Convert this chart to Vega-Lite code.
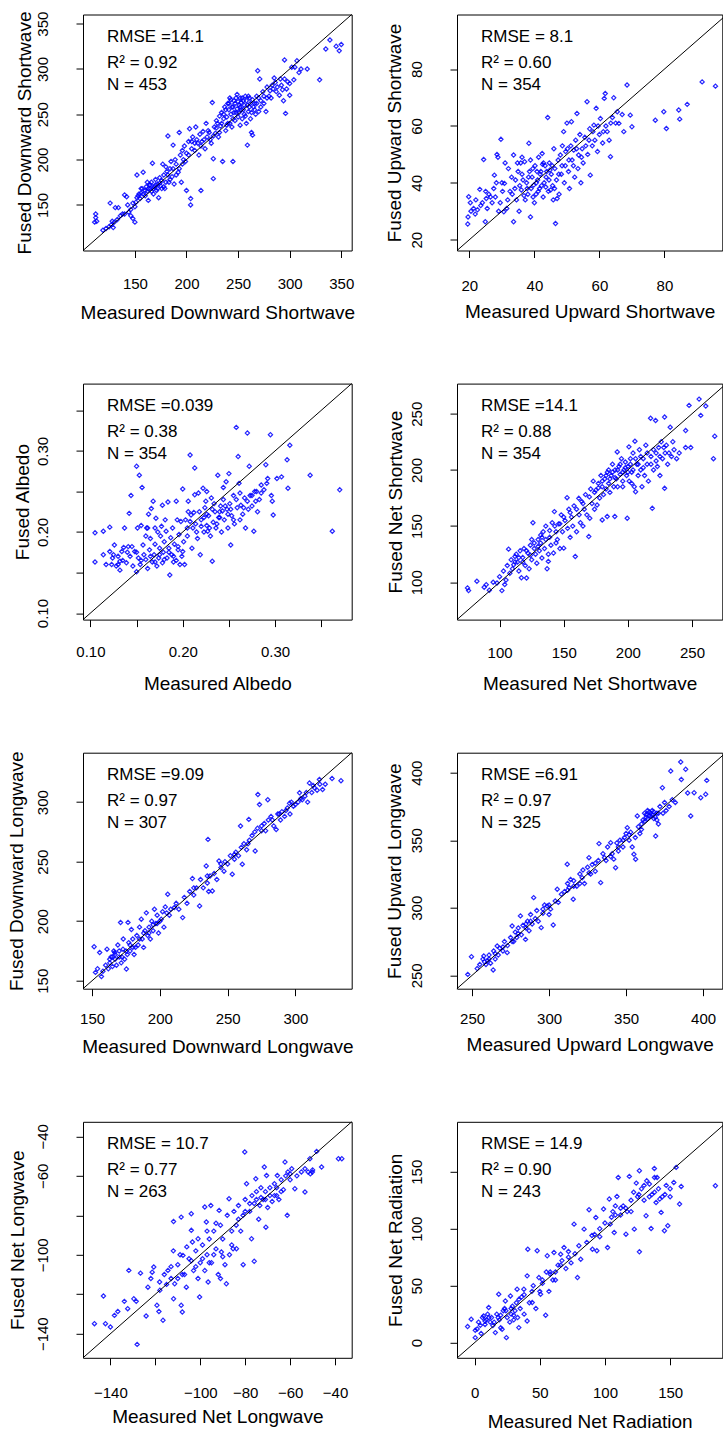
{
"$schema": "https://vega.github.io/schema/vega-lite/v6.json",
"padding": {"left": 6, "top": 10.5, "right": 0, "bottom": 0},
"background": "white",
"config": {
 "font": "Liberation Sans",
 "view": {"stroke": "#000", "strokeWidth": 1},
 "axis": {"domain": false, "grid": false, "ticks": true, "tickColor": "#000", "tickSize": 7, "tickWidth": 1, "labelFontSize": 15, "labelColor": "#000", "labelFont": "Liberation Sans", "titleFont": "Liberation Sans", "titleFontSize": 19, "titleFontWeight": "normal", "titleColor": "#000", "labelFlush": false, "labelOverlap": false, "labelBound": false},
 "axisX": {"labelPadding": 19, "titlePadding": 12},
 "axisY": {"labelAngle": -90, "labelAlign": "center", "labelBaseline": "bottom", "labelPadding": 25.5, "titlePadding": 4},
 "text": {"font": "Liberation Sans", "fontSize": 17, "color": "#000", "align": "left", "baseline": "middle"},
 "point": {"shape": "diamond", "filled": false, "size": 18, "strokeWidth": 1.2, "color": "#0000ff", "opacity": 0.85, "clip": true},
 "rule": {"color": "#000", "strokeWidth": 1, "clip": true}
},
"datasets": {
"p1": [{"x":112,"y":140},{"x":112,"y":136},{"x":113,"y":132},{"x":111,"y":131},{"x":119,"y":122},{"x":122,"y":124},{"x":125,"y":126},{"x":127,"y":128},{"x":129,"y":125},{"x":126,"y":152},{"x":131,"y":147},{"x":134,"y":147},{"x":138,"y":140},{"x":140,"y":161},{"x":142,"y":159},{"x":144,"y":142},{"x":146,"y":138},{"x":148,"y":135},{"x":150,"y":131},{"x":152,"y":183},{"x":151,"y":153},{"x":153,"y":160},{"x":155,"y":157},{"x":156,"y":163},{"x":158,"y":186},{"x":157,"y":168},{"x":160,"y":160},{"x":161,"y":170},{"x":162,"y":165},{"x":163,"y":155},{"x":164,"y":172},{"x":165,"y":168},{"x":166,"y":175},{"x":167,"y":196},{"x":168,"y":162},{"x":169,"y":170},{"x":170,"y":178},{"x":171,"y":166},{"x":172,"y":173},{"x":173,"y":158},{"x":174,"y":180},{"x":175,"y":171},{"x":176,"y":177},{"x":177,"y":195},{"x":178,"y":183},{"x":179,"y":168},{"x":180,"y":192},{"x":181,"y":187},{"x":182,"y":226},{"x":183,"y":175},{"x":184,"y":190},{"x":185,"y":198},{"x":186,"y":181},{"x":187,"y":216},{"x":188,"y":173},{"x":189,"y":200},{"x":190,"y":195},{"x":192,"y":186},{"x":193,"y":230},{"x":194,"y":205},{"x":195,"y":175},{"x":196,"y":210},{"x":197,"y":200},{"x":198,"y":215},{"x":200,"y":166},{"x":200,"y":207},{"x":202,"y":220},{"x":203,"y":234},{"x":204,"y":157},{"x":204,"y":150},{"x":205,"y":212},{"x":206,"y":225},{"x":208,"y":218},{"x":209,"y":236},{"x":210,"y":222},{"x":212,"y":205},{"x":213,"y":228},{"x":214,"y":166},{"x":215,"y":220},{"x":216,"y":231},{"x":218,"y":212},{"x":219,"y":240},{"x":220,"y":225},{"x":222,"y":230},{"x":224,"y":218},{"x":225,"y":263},{"x":226,"y":179},{"x":226,"y":201},{"x":227,"y":236},{"x":228,"y":229},{"x":229,"y":243},{"x":230,"y":240},{"x":231,"y":225},{"x":232,"y":248},{"x":233,"y":237},{"x":234,"y":252},{"x":235,"y":198},{"x":236,"y":245},{"x":237,"y":258},{"x":238,"y":232},{"x":239,"y":247},{"x":240,"y":262},{"x":240,"y":240},{"x":241,"y":255},{"x":242,"y":268},{"x":243,"y":250},{"x":244,"y":236},{"x":245,"y":198},{"x":245,"y":258},{"x":246,"y":265},{"x":247,"y":243},{"x":248,"y":252},{"x":249,"y":272},{"x":250,"y":247},{"x":251,"y":260},{"x":252,"y":238},{"x":252,"y":268},{"x":253,"y":255},{"x":254,"y":245},{"x":255,"y":265},{"x":256,"y":250},{"x":257,"y":270},{"x":258,"y":240},{"x":259,"y":216},{"x":259,"y":260},{"x":260,"y":253},{"x":261,"y":268},{"x":262,"y":245},{"x":263,"y":230},{"x":264,"y":227},{"x":265,"y":258},{"x":266,"y":262},{"x":267,"y":250},{"x":268,"y":270},{"x":269,"y":298},{"x":270,"y":253},{"x":271,"y":289},{"x":272,"y":265},{"x":274,"y":275},{"x":275,"y":262},{"x":277,"y":253},{"x":278,"y":280},{"x":280,"y":270},{"x":282,"y":268},{"x":284,"y":278},{"x":285,"y":290},{"x":287,"y":275},{"x":290,"y":271},{"x":292,"y":282},{"x":294,"y":265},{"x":295,"y":289},{"x":296,"y":251},{"x":297,"y":278},{"x":295,"y":310},{"x":300,"y":284},{"x":300,"y":271},{"x":302,"y":302},{"x":304,"y":288},{"x":307,"y":309},{"x":311,"y":300},{"x":317,"y":300},{"x":329,"y":288},{"x":335,"y":322},{"x":339,"y":332},{"x":345,"y":325},{"x":348,"y":320},{"x":350,"y":327},
{"x":236,"y":250},{"x":238,"y":255},{"x":241,"y":262},{"x":243,"y":266},{"x":244,"y":258},{"x":246,"y":252},{"x":247,"y":262},{"x":248,"y":268},{"x":249,"y":256},{"x":250,"y":264},{"x":251,"y":252},{"x":252,"y":258},{"x":253,"y":263},{"x":254,"y":268},{"x":255,"y":255},{"x":256,"y":260},{"x":257,"y":248},{"x":258,"y":265},{"x":260,"y":270},{"x":261,"y":258},{"x":262,"y":262},{"x":263,"y":252},{"x":264,"y":266},{"x":266,"y":255},{"x":268,"y":262},{"x":270,"y":268},{"x":272,"y":258},{"x":245,"y":245},{"x":242,"y":240},{"x":239,"y":238},{"x":234,"y":240},{"x":232,"y":230},{"x":229,"y":235},{"x":226,"y":226},{"x":223,"y":222},{"x":221,"y":232},{"x":217,"y":222},{"x":214,"y":215},{"x":211,"y":218},{"x":208,"y":210},{"x":205,"y":220},{"x":202,"y":205},{"x":199,"y":198},{"x":196,"y":195},{"x":193,"y":190},{"x":190,"y":183},{"x":187,"y":190},{"x":184,"y":178},{"x":182,"y":183},{"x":180,"y":175},{"x":178,"y":170},{"x":176,"y":168},{"x":174,"y":174},{"x":172,"y":168},{"x":170,"y":172},{"x":168,"y":168},{"x":166,"y":165},{"x":165,"y":172},{"x":163,"y":168},{"x":162,"y":175},{"x":160,"y":166},{"x":158,"y":162},{"x":156,"y":168},{"x":154,"y":162},{"x":152,"y":158},{"x":150,"y":148},{"x":148,"y":152},{"x":146,"y":145},{"x":143,"y":150},{"x":140,"y":140},{"x":136,"y":138},{"x":133,"y":134},{"x":130,"y":131},{"x":128,"y":132},{"x":275,"y":270},{"x":278,"y":268},{"x":281,"y":276},{"x":283,"y":282},{"x":286,"y":285},{"x":288,"y":280},{"x":291,"y":289},{"x":293,"y":277},{"x":298,"y":286},{"x":305,"y":302},{"x":309,"y":296}],
"p2": [{"x":19.5,"y":25.5},{"x":19.6,"y":28},{"x":19.8,"y":35.1},{"x":20.3,"y":33},{"x":21.3,"y":31},{"x":22,"y":34},{"x":22.5,"y":30.5},{"x":23.2,"y":37.7},{"x":24,"y":33},{"x":24.4,"y":48.2},{"x":24.9,"y":26.3},{"x":25.2,"y":34.5},{"x":25.5,"y":31},{"x":26,"y":36},{"x":27,"y":33},{"x":27.5,"y":38},{"x":27.7,"y":42.7},{"x":28,"y":35},{"x":28.5,"y":50},{"x":28.8,"y":49},{"x":29,"y":30},{"x":29.7,"y":55.3},{"x":30,"y":40},{"x":30.6,"y":29.8},{"x":30.8,"y":39.8},{"x":31,"y":47},{"x":31.5,"y":31},{"x":32,"y":45},{"x":32.5,"y":37},{"x":33,"y":42},{"x":33.6,"y":26.3},{"x":33.6,"y":49.8},{"x":34,"y":38},{"x":34.5,"y":34},{"x":35,"y":44},{"x":35.3,"y":30},{"x":35.8,"y":47},{"x":36,"y":37.5},{"x":36.5,"y":41},{"x":37,"y":47.4},{"x":37.2,"y":34},{"x":37.6,"y":40},{"x":38,"y":36},{"x":38.3,"y":53.9},{"x":38.5,"y":44},{"x":38.8,"y":28},{"x":39,"y":38},{"x":39.3,"y":42},{"x":39.8,"y":39.2},{"x":40,"y":33},{"x":40.2,"y":46},{"x":40.5,"y":36},{"x":41,"y":41},{"x":41.3,"y":49},{"x":41.6,"y":38},{"x":42,"y":44},{"x":42.4,"y":50.3},{"x":42.7,"y":35},{"x":43,"y":40},{"x":43.3,"y":46},{"x":43.6,"y":42},{"x":44.1,"y":63},{"x":44.3,"y":37},{"x":44.6,"y":47},{"x":45,"y":37.5},{"x":45.2,"y":43},{"x":45.6,"y":39},{"x":46,"y":52},{"x":46.3,"y":45},{"x":46.5,"y":25.7},{"x":46.8,"y":41},{"x":47,"y":34.5},{"x":47.3,"y":48},{"x":47.6,"y":36},{"x":48,"y":49.8},{"x":48.3,"y":43},{"x":48.6,"y":53},{"x":49,"y":58},{"x":49.2,"y":40},{"x":49.5,"y":46},{"x":50,"y":61},{"x":50.2,"y":52},{"x":50.5,"y":44},{"x":50.8,"y":38},{"x":51.4,"y":61.5},{"x":51.6,"y":48},{"x":52.1,"y":51.5},{"x":52.4,"y":42},{"x":52.7,"y":55},{"x":53.1,"y":64.4},{"x":53.4,"y":45},{"x":53.6,"y":49.8},{"x":54,"y":57},{"x":54.3,"y":40},{"x":54.7,"y":52},{"x":55,"y":47},{"x":55.5,"y":56},{"x":56.2,"y":68.5},{"x":56.4,"y":50},{"x":57,"y":59},{"x":57.2,"y":42.7},{"x":57.8,"y":53},{"x":58.3,"y":60.3},{"x":58.6,"y":55},{"x":59,"y":66.2},{"x":59.4,"y":51},{"x":60,"y":57},{"x":60.3,"y":62.6},{"x":61,"y":54},{"x":61.5,"y":69.7},{"x":61.8,"y":71.4},{"x":62,"y":60},{"x":62.4,"y":58},{"x":63,"y":55},{"x":63.4,"y":49.2},{"x":64,"y":63},{"x":64.4,"y":69.9},{"x":65,"y":61},{"x":66,"y":60.9},{"x":67,"y":64},{"x":67.5,"y":58},{"x":68.5,"y":74.4},{"x":69.5,"y":63.8},{"x":70,"y":59.7},{"x":77.2,"y":62},{"x":79.8,"y":65},{"x":80.6,"y":59.1},{"x":84.4,"y":65.6},{"x":84.7,"y":62.4},{"x":87,"y":67.6},{"x":91.6,"y":75.5},{"x":95.7,"y":74},
{"x":34.2,"y":41},{"x":35.5,"y":39},{"x":36.2,"y":43},{"x":37.8,"y":38},{"x":38.2,"y":42},{"x":39.5,"y":45},{"x":40.6,"y":40},{"x":41.2,"y":37},{"x":41.8,"y":43},{"x":42.2,"y":39},{"x":42.8,"y":47},{"x":43.8,"y":44},{"x":44.5,"y":41},{"x":45.5,"y":46},{"x":46.2,"y":38},{"x":47.5,"y":43},{"x":48.5,"y":46},{"x":49.6,"y":51},{"x":50.6,"y":48},{"x":51.2,"y":53},{"x":52,"y":46},{"x":53,"y":52},{"x":54.5,"y":49},{"x":55.8,"y":53},{"x":56.8,"y":55},{"x":58,"y":58},{"x":59.6,"y":60},{"x":61.2,"y":58},{"x":63.5,"y":61},{"x":65.5,"y":65},{"x":36.8,"y":35.5},{"x":39.6,"y":35},{"x":43.5,"y":38.5},{"x":45.8,"y":34},{"x":33.2,"y":36},{"x":31.8,"y":34},{"x":30.2,"y":37},{"x":29.5,"y":33},{"x":28.3,"y":40},{"x":26.5,"y":35},{"x":25,"y":37},{"x":23.5,"y":32},{"x":21.8,"y":29},{"x":20.5,"y":30},{"x":44.8,"y":44.5},{"x":42.5,"y":46.5},{"x":40.8,"y":44},{"x":38.8,"y":48},{"x":36.2,"y":49},{"x":34.8,"y":47}],
"p3": [{"x":0.105,"y":0.199},{"x":0.105,"y":0.163},{"x":0.114,"y":0.201},{"x":0.114,"y":0.172},{"x":0.117,"y":0.160},{"x":0.121,"y":0.206},{"x":0.121,"y":0.176},{"x":0.123,"y":0.160},{"x":0.124,"y":0.168},{"x":0.126,"y":0.184},{"x":0.128,"y":0.158},{"x":0.130,"y":0.170},{"x":0.132,"y":0.153},{"x":0.132,"y":0.164},{"x":0.134,"y":0.176},{"x":0.136,"y":0.181},{"x":0.137,"y":0.205},{"x":0.139,"y":0.162},{"x":0.141,"y":0.182},{"x":0.142,"y":0.223},{"x":0.143,"y":0.170},{"x":0.144,"y":0.245},{"x":0.146,"y":0.158},{"x":0.148,"y":0.176},{"x":0.150,"y":0.281},{"x":0.150,"y":0.151},{"x":0.151,"y":0.205},{"x":0.152,"y":0.168},{"x":0.153,"y":0.270},{"x":0.154,"y":0.160},{"x":0.155,"y":0.208},{"x":0.156,"y":0.255},{"x":0.157,"y":0.184},{"x":0.158,"y":0.172},{"x":0.160,"y":0.166},{"x":0.161,"y":0.205},{"x":0.162,"y":0.155},{"x":0.163,"y":0.222},{"x":0.164,"y":0.178},{"x":0.165,"y":0.192},{"x":0.166,"y":0.229},{"x":0.167,"y":0.163},{"x":0.168,"y":0.238},{"x":0.169,"y":0.172},{"x":0.170,"y":0.185},{"x":0.171,"y":0.217},{"x":0.172,"y":0.158},{"x":0.173,"y":0.200},{"x":0.174,"y":0.168},{"x":0.175,"y":0.180},{"x":0.177,"y":0.207},{"x":0.178,"y":0.233},{"x":0.178,"y":0.162},{"x":0.179,"y":0.175},{"x":0.180,"y":0.188},{"x":0.182,"y":0.201},{"x":0.183,"y":0.168},{"x":0.184,"y":0.237},{"x":0.185,"y":0.180},{"x":0.186,"y":0.147},{"x":0.187,"y":0.193},{"x":0.188,"y":0.172},{"x":0.189,"y":0.205},{"x":0.190,"y":0.163},{"x":0.191,"y":0.185},{"x":0.193,"y":0.238},{"x":0.193,"y":0.165},{"x":0.195,"y":0.178},{"x":0.196,"y":0.197},{"x":0.198,"y":0.213},{"x":0.199,"y":0.170},{"x":0.200,"y":0.253},{"x":0.201,"y":0.188},{"x":0.202,"y":0.160},{"x":0.203,"y":0.215},{"x":0.205,"y":0.195},{"x":0.206,"y":0.225},{"x":0.208,"y":0.295},{"x":0.209,"y":0.221},{"x":0.210,"y":0.180},{"x":0.211,"y":0.205},{"x":0.213,"y":0.279},{"x":0.213,"y":0.246},{"x":0.214,"y":0.210},{"x":0.216,"y":0.192},{"x":0.218,"y":0.225},{"x":0.219,"y":0.172},{"x":0.220,"y":0.215},{"x":0.222,"y":0.254},{"x":0.223,"y":0.200},{"x":0.224,"y":0.230},{"x":0.225,"y":0.238},{"x":0.226,"y":0.208},{"x":0.227,"y":0.201},{"x":0.228,"y":0.220},{"x":0.230,"y":0.195},{"x":0.231,"y":0.242},{"x":0.232,"y":0.164},{"x":0.233,"y":0.212},{"x":0.235,"y":0.225},{"x":0.236,"y":0.205},{"x":0.238,"y":0.270},{"x":0.239,"y":0.218},{"x":0.240,"y":0.225},{"x":0.241,"y":0.232},{"x":0.242,"y":0.200},{"x":0.244,"y":0.240},{"x":0.245,"y":0.215},{"x":0.247,"y":0.262},{"x":0.248,"y":0.228},{"x":0.249,"y":0.205},{"x":0.250,"y":0.272},{"x":0.251,"y":0.235},{"x":0.252,"y":0.184},{"x":0.253,"y":0.220},{"x":0.255,"y":0.245},{"x":0.256,"y":0.210},{"x":0.258,"y":0.329},{"x":0.259,"y":0.230},{"x":0.260,"y":0.293},{"x":0.261,"y":0.260},{"x":0.262,"y":0.215},{"x":0.263,"y":0.233},{"x":0.265,"y":0.222},{"x":0.267,"y":0.242},{"x":0.268,"y":0.205},{"x":0.270,"y":0.322},{"x":0.271,"y":0.228},{"x":0.272,"y":0.281},{"x":0.273,"y":0.245},{"x":0.275,"y":0.232},{"x":0.277,"y":0.201},{"x":0.278,"y":0.250},{"x":0.279,"y":0.238},{"x":0.281,"y":0.225},{"x":0.283,"y":0.240},{"x":0.285,"y":0.248},{"x":0.288,"y":0.252},{"x":0.290,"y":0.283},{"x":0.291,"y":0.260},{"x":0.292,"y":0.266},{"x":0.295,"y":0.320},{"x":0.296,"y":0.245},{"x":0.297,"y":0.238},{"x":0.298,"y":0.221},{"x":0.302,"y":0.266},{"x":0.307,"y":0.268},{"x":0.313,"y":0.289},{"x":0.314,"y":0.254},{"x":0.316,"y":0.307},{"x":0.338,"y":0.270},{"x":0.362,"y":0.201},{"x":0.370,"y":0.252},
{"x":0.165,"y":0.170},{"x":0.170,"y":0.163},{"x":0.175,"y":0.172},{"x":0.180,"y":0.166},{"x":0.185,"y":0.175},{"x":0.190,"y":0.170},{"x":0.195,"y":0.182},{"x":0.197,"y":0.160},{"x":0.200,"y":0.176},{"x":0.205,"y":0.205},{"x":0.208,"y":0.213},{"x":0.212,"y":0.224},{"x":0.215,"y":0.200},{"x":0.220,"y":0.207},{"x":0.223,"y":0.218},{"x":0.226,"y":0.222},{"x":0.229,"y":0.205},{"x":0.232,"y":0.228},{"x":0.234,"y":0.235},{"x":0.237,"y":0.210},{"x":0.240,"y":0.218},{"x":0.243,"y":0.226},{"x":0.246,"y":0.232},{"x":0.249,"y":0.222},{"x":0.252,"y":0.228},{"x":0.255,"y":0.215},{"x":0.258,"y":0.240},{"x":0.262,"y":0.248},{"x":0.266,"y":0.230},{"x":0.270,"y":0.238},{"x":0.275,"y":0.245},{"x":0.280,"y":0.250},{"x":0.285,"y":0.258},{"x":0.125,"y":0.172},{"x":0.130,"y":0.160},{"x":0.135,"y":0.165},{"x":0.140,"y":0.175},{"x":0.145,"y":0.182},{"x":0.150,"y":0.175},{"x":0.155,"y":0.165},{"x":0.160,"y":0.195},{"x":0.162,"y":0.205},{"x":0.170,"y":0.205},{"x":0.176,"y":0.195},{"x":0.181,"y":0.215},{"x":0.194,"y":0.215},{"x":0.206,"y":0.238},{"x":0.217,"y":0.248},{"x":0.226,"y":0.250},{"x":0.244,"y":0.255}],
"p4": [{"x":75,"y":95},{"x":75.8,"y":92.6},{"x":82.3,"y":100.9},{"x":88,"y":95.6},{"x":89.6,"y":97.9},{"x":92,"y":93},{"x":95,"y":100},{"x":98,"y":99.4},{"x":100,"y":105},{"x":101.8,"y":92.6},{"x":103,"y":110},{"x":104,"y":98},{"x":105,"y":102},{"x":106,"y":115},{"x":107,"y":129.5},{"x":108,"y":108},{"x":109,"y":120},{"x":110,"y":112},{"x":111,"y":115.6},{"x":112,"y":123},{"x":113,"y":125},{"x":114,"y":118},{"x":115,"y":110},{"x":116,"y":128},{"x":117,"y":104},{"x":118,"y":122},{"x":119,"y":130},{"x":120,"y":115},{"x":121,"y":103.8},{"x":122,"y":126},{"x":123,"y":112},{"x":124,"y":133},{"x":125,"y":120},{"x":126,"y":153},{"x":127,"y":135},{"x":128,"y":125},{"x":129,"y":117},{"x":130,"y":138},{"x":131,"y":128},{"x":132,"y":142},{"x":133,"y":121.6},{"x":134,"y":145},{"x":135,"y":130},{"x":136,"y":150},{"x":137,"y":112},{"x":138,"y":118.6},{"x":139,"y":140},{"x":140,"y":133},{"x":141,"y":153},{"x":142,"y":126},{"x":142.7,"y":162.9},{"x":144,"y":145},{"x":145,"y":138},{"x":146,"y":152},{"x":147,"y":130},{"x":148,"y":160},{"x":149,"y":145},{"x":150,"y":130.4},{"x":151,"y":155},{"x":152.6,"y":175.3},{"x":153,"y":148},{"x":154,"y":165},{"x":155,"y":140},{"x":156,"y":158},{"x":157,"y":150},{"x":158,"y":168},{"x":159,"y":123},{"x":160,"y":145},{"x":161.7,"y":174.7},{"x":162,"y":160},{"x":163,"y":153},{"x":164,"y":172},{"x":165,"y":150},{"x":166,"y":165},{"x":167,"y":178},{"x":168,"y":160},{"x":169.5,"y":140.7},{"x":170.3,"y":157},{"x":171,"y":183},{"x":172,"y":170},{"x":173,"y":190},{"x":174,"y":165},{"x":175,"y":182},{"x":176,"y":168.8},{"x":177,"y":188},{"x":178,"y":175},{"x":179,"y":195},{"x":180,"y":155.5},{"x":180,"y":185},{"x":181,"y":178},{"x":182,"y":192},{"x":183,"y":183},{"x":183.9,"y":158.5},{"x":184,"y":198},{"x":185,"y":188},{"x":186,"y":180},{"x":187,"y":195},{"x":188,"y":205},{"x":189,"y":185},{"x":189.8,"y":158.5},{"x":190,"y":200},{"x":191,"y":192},{"x":191.7,"y":216},{"x":192,"y":185},{"x":193,"y":203},{"x":194,"y":196},{"x":195,"y":210},{"x":196,"y":190},{"x":197,"y":200},{"x":198,"y":207},{"x":199,"y":195},{"x":199.5,"y":157},{"x":200,"y":203},{"x":200.8,"y":220.5},{"x":201,"y":190},{"x":202,"y":210},{"x":203,"y":198},{"x":204,"y":215},{"x":205,"y":185},{"x":205.5,"y":225.5},{"x":206,"y":180.6},{"x":207,"y":205},{"x":208,"y":195},{"x":209,"y":218},{"x":210,"y":200},{"x":211,"y":185},{"x":212,"y":210},{"x":213,"y":195},{"x":214,"y":222},{"x":215,"y":205},{"x":216,"y":190},{"x":217.7,"y":246},{"x":218,"y":212},{"x":219,"y":165.8},{"x":220,"y":200},{"x":221.6,"y":244},{"x":222,"y":215},{"x":223,"y":203},{"x":224,"y":220},{"x":225,"y":195},{"x":226,"y":225},{"x":227,"y":210},{"x":228.6,"y":183.6},{"x":228.6,"y":247},{"x":229,"y":215},{"x":230,"y":222},{"x":231,"y":205},{"x":233,"y":238},{"x":234,"y":212},{"x":236,"y":218},{"x":238,"y":210},{"x":240,"y":215},{"x":245,"y":235},{"x":245,"y":220},{"x":247.7,"y":257.4},{"x":249,"y":220},{"x":255.5,"y":263},{"x":256.8,"y":248.5},{"x":260.7,"y":256.8},{"x":266.7,"y":210},{"x":267.7,"y":230},
{"x":112,"y":118},{"x":115,"y":122},{"x":118,"y":118},{"x":121,"y":128},{"x":124,"y":124},{"x":127,"y":130},{"x":130,"y":132},{"x":133,"y":140},{"x":136,"y":138},{"x":139,"y":146},{"x":143,"y":150},{"x":147,"y":152},{"x":150,"y":158},{"x":155,"y":162},{"x":160,"y":165},{"x":165,"y":170},{"x":170,"y":176},{"x":174,"y":180},{"x":177,"y":184},{"x":180,"y":190},{"x":183,"y":195},{"x":186,"y":192},{"x":188,"y":198},{"x":190,"y":193},{"x":192,"y":200},{"x":194,"y":205},{"x":196,"y":198},{"x":198,"y":202},{"x":200,"y":198},{"x":202,"y":205},{"x":204,"y":200},{"x":206,"y":210},{"x":208,"y":205},{"x":210,"y":212},{"x":212,"y":202},{"x":215,"y":215},{"x":218,"y":205},{"x":220,"y":218},{"x":222,"y":208},{"x":225,"y":212},{"x":228,"y":220},{"x":232,"y":215},{"x":235,"y":225},{"x":125,"y":138},{"x":132,"y":135},{"x":138,"y":125},{"x":144,"y":135},{"x":185,"y":200},{"x":196,"y":185},{"x":203,"y":188}],
"p5": [{"x":151.5,"y":178.5},{"x":152.5,"y":157},{"x":154,"y":160},{"x":155.6,"y":173.7},{"x":156.9,"y":153.6},{"x":158,"y":158},{"x":160,"y":163},{"x":161,"y":176.5},{"x":162,"y":160},{"x":163,"y":165},{"x":164,"y":170},{"x":165,"y":162},{"x":166,"y":175},{"x":166.7,"y":173.7},{"x":167,"y":168},{"x":168,"y":163},{"x":169,"y":180},{"x":170,"y":170},{"x":171,"y":198.9},{"x":171.5,"y":165},{"x":172.8,"y":176.5},{"x":173,"y":185},{"x":174,"y":168},{"x":175.3,"y":159.8},{"x":176,"y":172},{"x":176.5,"y":199},{"x":177,"y":182},{"x":178,"y":175},{"x":179,"y":193},{"x":180,"y":185},{"x":181,"y":172},{"x":182,"y":178},{"x":183,"y":188},{"x":184,"y":180},{"x":185,"y":195},{"x":186.3,"y":201.7},{"x":187,"y":185},{"x":188,"y":178},{"x":189,"y":192},{"x":190,"y":207},{"x":191,"y":188},{"x":192,"y":195},{"x":193,"y":185},{"x":194,"y":200},{"x":195,"y":192},{"x":196,"y":210},{"x":197,"y":198},{"x":198,"y":205},{"x":199,"y":190},{"x":200,"y":200},{"x":201,"y":201.7},{"x":202,"y":208},{"x":203,"y":195},{"x":204,"y":212},{"x":205.8,"y":222.6},{"x":207,"y":205},{"x":208,"y":210},{"x":210.7,"y":211.5},{"x":212,"y":215},{"x":214,"y":210},{"x":216.8,"y":203},{"x":218,"y":220},{"x":220,"y":215},{"x":222,"y":225},{"x":224,"y":235.8},{"x":225,"y":222},{"x":227,"y":228},{"x":229.3,"y":212.8},{"x":230,"y":235},{"x":232,"y":228},{"x":234.2,"y":246.4},{"x":235,"y":232},{"x":235.5,"y":268.7},{"x":236,"y":225},{"x":237,"y":238},{"x":238.7,"y":225.4},{"x":240,"y":240},{"x":242,"y":235},{"x":243.6,"y":250.6},{"x":245,"y":245},{"x":247.3,"y":242},{"x":248,"y":250},{"x":250,"y":248},{"x":252,"y":255},{"x":253.4,"y":239.4},{"x":255,"y":252},{"x":256,"y":258},{"x":258,"y":255},{"x":259.5,"y":279.9},{"x":260,"y":262},{"x":260.8,"y":247.8},{"x":262,"y":265},{"x":264,"y":260},{"x":265.6,"y":285.5},{"x":266,"y":268},{"x":268,"y":272},{"x":270,"y":275},{"x":270.3,"y":259},{"x":272,"y":278},{"x":272.3,"y":306.4},{"x":273.5,"y":298},{"x":275,"y":280},{"x":277,"y":282},{"x":278,"y":276},{"x":279.6,"y":302},{"x":280,"y":285},{"x":282,"y":288},{"x":284,"y":280},{"x":285.8,"y":277},{"x":287,"y":290},{"x":289,"y":285},{"x":290,"y":292},{"x":292,"y":288},{"x":294,"y":295},{"x":295.6,"y":299},{"x":296,"y":290},{"x":298.5,"y":296.6},{"x":300,"y":298},{"x":302,"y":300},{"x":303,"y":307.8},{"x":305,"y":302},{"x":307,"y":305},{"x":309,"y":300},{"x":310.3,"y":316},{"x":312,"y":308},{"x":314,"y":312},{"x":316,"y":310},{"x":317.7,"y":319},{"x":320,"y":310.6},{"x":322,"y":315},{"x":327,"y":319.8},{"x":333.6,"y":318},
{"x":163,"y":168},{"x":165,"y":170},{"x":167,"y":172},{"x":170,"y":175},{"x":172,"y":170},{"x":175,"y":175},{"x":178,"y":180},{"x":180,"y":178},{"x":185,"y":185},{"x":188,"y":190},{"x":192,"y":190},{"x":195,"y":197},{"x":198,"y":198},{"x":205,"y":207},{"x":225,"y":228},{"x":235,"y":238},{"x":245,"y":248},{"x":255,"y":256},{"x":265,"y":265},{"x":275,"y":276},{"x":283,"y":285},{"x":288,"y":290},{"x":293,"y":293},{"x":297,"y":300},{"x":304,"y":303},{"x":308,"y":308},{"x":313,"y":314},{"x":318,"y":315}],
"p6": [{"x":247.2,"y":250.7},{"x":249.6,"y":263.8},{"x":253.3,"y":255},{"x":255,"y":258},{"x":257,"y":262},{"x":257.6,"y":264.3},{"x":259,"y":258},{"x":260,"y":261},{"x":261,"y":265},{"x":262,"y":259},{"x":263.7,"y":254},{"x":264,"y":268},{"x":265,"y":262},{"x":266.3,"y":271.7},{"x":267,"y":265},{"x":268,"y":270},{"x":270,"y":268},{"x":271,"y":275},{"x":272.8,"y":266.8},{"x":273,"y":272},{"x":275,"y":278},{"x":276,"y":286.5},{"x":277,"y":275},{"x":278,"y":282},{"x":279,"y":278},{"x":280,"y":285},{"x":281.4,"y":294},{"x":282,"y":280},{"x":283,"y":287},{"x":284.7,"y":276.6},{"x":285,"y":285},{"x":286,"y":290},{"x":287,"y":283},{"x":288,"y":295},{"x":289,"y":288},{"x":290,"y":307.5},{"x":291,"y":292},{"x":292,"y":298},{"x":293,"y":290},{"x":294.9,"y":285.3},{"x":296,"y":296},{"x":297,"y":302},{"x":298.8,"y":301.3},{"x":300,"y":295},{"x":301,"y":299},{"x":302.7,"y":287.3},{"x":304,"y":305},{"x":305.3,"y":313.7},{"x":306,"y":304},{"x":308,"y":310},{"x":310,"y":312},{"x":311.8,"y":332.2},{"x":312,"y":318},{"x":313,"y":315},{"x":314,"y":321},{"x":315.7,"y":306.3},{"x":316,"y":320},{"x":318,"y":316},{"x":320,"y":325},{"x":321.5,"y":322.3},{"x":322,"y":328},{"x":323,"y":318},{"x":325,"y":330},{"x":325.9,"y":337.1},{"x":327,"y":325},{"x":328,"y":332},{"x":330,"y":327},{"x":332,"y":335},{"x":332.4,"y":347.5},{"x":333.5,"y":318.6},{"x":335,"y":340},{"x":337,"y":335},{"x":338,"y":345},{"x":340,"y":348.2},{"x":341,"y":340},{"x":342,"y":336},{"x":343.2,"y":329.7},{"x":344,"y":348},{"x":345,"y":342},{"x":346,"y":350},{"x":348,"y":345},{"x":349,"y":352},{"x":350,"y":355},{"x":350.8,"y":359.3},{"x":352,"y":350},{"x":353,"y":356},{"x":354,"y":345},{"x":355.1,"y":339.6},{"x":356.2,"y":335.9},{"x":357.3,"y":368},{"x":358,"y":360},{"x":359,"y":355},{"x":360,"y":362},{"x":361,"y":365},{"x":362,"y":370},{"x":363,"y":367},{"x":364,"y":372},{"x":365,"y":368},{"x":366,"y":370},{"x":367,"y":372},{"x":368,"y":366},{"x":369.2,"y":353.1},{"x":370,"y":370},{"x":371,"y":362},{"x":372,"y":375},{"x":373.6,"y":388.9},{"x":374,"y":370},{"x":375,"y":378},{"x":376,"y":372},{"x":378,"y":375},{"x":379,"y":401.2},{"x":380,"y":380},{"x":382,"y":378},{"x":385.5,"y":407.9},{"x":385.9,"y":395},{"x":388.7,"y":402.5},{"x":390,"y":385},{"x":392,"y":368},{"x":394.2,"y":385.2},{"x":398.5,"y":381.5},{"x":401.7,"y":384},{"x":402.4,"y":394.3},
{"x":363,"y":369},{"x":364,"y":366},{"x":365,"y":371},{"x":366,"y":368},{"x":367,"y":369},{"x":368,"y":371},{"x":369,"y":367},{"x":370,"y":365},{"x":371,"y":370},{"x":362,"y":364},{"x":360,"y":358},{"x":356,"y":352},{"x":352,"y":354},{"x":348,"y":350},{"x":345,"y":345},{"x":340,"y":338},{"x":336,"y":337},{"x":330,"y":333},{"x":326,"y":326},{"x":320,"y":318},{"x":316,"y":316},{"x":312,"y":313},{"x":300,"y":302},{"x":296,"y":299},{"x":288,"y":290},{"x":285,"y":288},{"x":280,"y":281},{"x":276,"y":275},{"x":270,"y":271},{"x":265,"y":266},{"x":261,"y":262},{"x":258,"y":260}],
"p7": [{"x":-147.1,"y":-134.9},{"x":-143.1,"y":-120.9},{"x":-142.2,"y":-134.9},{"x":-140,"y":-136.6},{"x":-138.2,"y":-130.7},{"x":-136.7,"y":-128.7},{"x":-133.8,"y":-123.6},{"x":-132.3,"y":-127.3},{"x":-131.8,"y":-107.9},{"x":-129.6,"y":-122.3},{"x":-128.5,"y":-123.6},{"x":-128.1,"y":-145.4},{"x":-126.6,"y":-109.3},{"x":-124.1,"y":-131},{"x":-123.3,"y":-116.4},{"x":-122,"y":-112},{"x":-121.4,"y":-108.8},{"x":-120.7,"y":-106.2},{"x":-119.3,"y":-125.6},{"x":-118.4,"y":-128.7},{"x":-118.1,"y":-113.8},{"x":-116.6,"y":-133.2},{"x":-116,"y":-110},{"x":-115,"y":-115},{"x":-114.4,"y":-107.9},{"x":-113,"y":-112},{"x":-112,"y":-98},{"x":-111.9,"y":-83.1},{"x":-111.9,"y":-122.3},{"x":-111.4,"y":-114.7},{"x":-110,"y":-105},{"x":-109,"y":-100},{"x":-108.5,"y":-80.9},{"x":-108.5,"y":-125.6},{"x":-108,"y":-129},{"x":-107.7,"y":-100.3},{"x":-107,"y":-110},{"x":-106.2,"y":-116.4},{"x":-105,"y":-102},{"x":-104,"y":-79.2},{"x":-104,"y":-87.6},{"x":-103.5,"y":-93.5},{"x":-103,"y":-108},{"x":-102,"y":-98},{"x":-101,"y":-91.9},{"x":-101,"y":-112},{"x":-100.3,"y":-121.4},{"x":-100,"y":-104},{"x":-99,"y":-95},{"x":-98,"y":-75.8},{"x":-98,"y":-108},{"x":-97.3,"y":-83.4},{"x":-97,"y":-100},{"x":-96.5,"y":-113.8},{"x":-96,"y":-92},{"x":-95.3,"y":-75},{"x":-95,"y":-104},{"x":-94,"y":-88},{"x":-93,"y":-97},{"x":-92,"y":-110},{"x":-91.6,"y":-77.5},{"x":-91,"y":-85},{"x":-90.6,"y":-98.6},{"x":-90,"y":-92},{"x":-89,"y":-105},{"x":-88.4,"y":-114.7},{"x":-88,"y":-80},{"x":-87.2,"y":-71.6},{"x":-86,"y":-95},{"x":-85.4,"y":-96.9},{"x":-85,"y":-78},{"x":-84,"y":-85},{"x":-83.9,"y":-96.9},{"x":-83,"y":-75},{"x":-82,"y":-88},{"x":-81,"y":-80},{"x":-80.9,"y":-105},{"x":-80.2,"y":-47.9},{"x":-80,"y":-72},{"x":-79.4,"y":-64},{"x":-78,"y":-78},{"x":-77.2,"y":-91.9},{"x":-77,"y":-70},{"x":-76,"y":-103.3},{"x":-76,"y":-74},{"x":-75.3,"y":-61.5},{"x":-75,"y":-68},{"x":-74,"y":-82},{"x":-73.5,"y":-75},{"x":-73,"y":-66},{"x":-72,"y":-72},{"x":-71.5,"y":-55.5},{"x":-71,"y":-68},{"x":-70.8,"y":-86},{"x":-70.5,"y":-59.8},{"x":-70,"y":-76},{"x":-69,"y":-70},{"x":-68,"y":-73},{"x":-67,"y":-64},{"x":-66,"y":-70},{"x":-65.7,"y":-59.8},{"x":-65,"y":-72},{"x":-64,"y":-62},{"x":-63,"y":-67},{"x":-62.3,"y":-53},{"x":-61.3,"y":-80},{"x":-61,"y":-58},{"x":-60,"y":-62},{"x":-59.3,"y":-56.4},{"x":-57.9,"y":-66.5},{"x":-57,"y":-60},{"x":-55,"y":-58},{"x":-53.4,"y":-68.2},{"x":-53.4,"y":-56.4},{"x":-51.2,"y":-51.3},{"x":-51,"y":-59},{"x":-50.1,"y":-58},{"x":-48.2,"y":-47.6},{"x":-46,"y":-55.5},{"x":-38.5,"y":-51.3},{"x":-37,"y":-51.3},
{"x":-104,"y":-103},{"x":-102,"y":-106},{"x":-99,"y":-102},{"x":-96,"y":-104},{"x":-94,"y":-100},{"x":-90,"y":-101},{"x":-87,"y":-100},{"x":-86,"y":-88},{"x":-83,"y":-82},{"x":-80,"y":-78},{"x":-78,"y":-74},{"x":-75,"y":-72},{"x":-73,"y":-71},{"x":-71,"y":-72},{"x":-69,"y":-66},{"x":-67,"y":-70},{"x":-66,"y":-66},{"x":-64,"y":-68},{"x":-62,"y":-60},{"x":-60,"y":-59},{"x":-52,"y":-58},{"x":-50,"y":-57},{"x":-108,"y":-110},{"x":-110,"y":-112},{"x":-113,"y":-106},{"x":-118,"y":-118},{"x":-106,"y":-96},{"x":-93,"y":-84},{"x":-91,"y":-112},{"x":-97,"y":-88}],
"p8": [{"x":-5.4,"y":14.1},{"x":-2.6,"y":20.5},{"x":0.5,"y":4.4},{"x":0.5,"y":10.8},{"x":2,"y":12},{"x":3,"y":18},{"x":4.4,"y":15.2},{"x":5,"y":8},{"x":6,"y":22},{"x":6.9,"y":23.4},{"x":8,"y":16},{"x":9,"y":20},{"x":10,"y":25},{"x":10.8,"y":30.8},{"x":12,"y":18},{"x":13,"y":22},{"x":14,"y":15},{"x":15.9,"y":8.8},{"x":17,"y":25},{"x":18.5,"y":42.5},{"x":19,"y":20},{"x":20,"y":13},{"x":21.1,"y":11.7},{"x":22,"y":28},{"x":23,"y":30},{"x":23.6,"y":36.6},{"x":24.4,"y":4.4},{"x":25,"y":22},{"x":27,"y":18},{"x":27.5,"y":41},{"x":28,"y":25},{"x":29,"y":32},{"x":30,"y":20},{"x":31,"y":28},{"x":32,"y":35},{"x":32.6,"y":46.9},{"x":33.9,"y":13.2},{"x":35,"y":30},{"x":36,"y":40},{"x":37.8,"y":46.9},{"x":38,"y":25},{"x":40.3,"y":58.6},{"x":40.8,"y":82},{"x":40.3,"y":19},{"x":42,"y":35},{"x":44.2,"y":35.2},{"x":45,"y":50},{"x":47,"y":30},{"x":48,"y":80.6},{"x":49.3,"y":57.1},{"x":50,"y":45},{"x":50.6,"y":42.5},{"x":52,"y":55},{"x":54.5,"y":24},{"x":55,"y":62},{"x":55.7,"y":76.2},{"x":57,"y":45},{"x":58,"y":60},{"x":60,"y":55},{"x":60.9,"y":79.1},{"x":62,"y":62},{"x":64,"y":68},{"x":66,"y":77.6},{"x":67,"y":72},{"x":68.6,"y":83.5},{"x":70,"y":65},{"x":72,"y":75},{"x":74,"y":70},{"x":76.3,"y":104},{"x":77,"y":78},{"x":78.9,"y":57.1},{"x":80,"y":85},{"x":81.4,"y":73.2},{"x":84,"y":99.6},{"x":86,"y":88},{"x":87.8,"y":116.6},{"x":90.4,"y":82},{"x":92,"y":95},{"x":93,"y":109.9},{"x":93.8,"y":80.6},{"x":96,"y":100},{"x":98.9,"y":117.2},{"x":100,"y":105},{"x":102,"y":83.5},{"x":103.3,"y":126},{"x":105,"y":110},{"x":106,"y":115},{"x":107.1,"y":96.7},{"x":108,"y":120},{"x":109.2,"y":128.3},{"x":110.2,"y":145},{"x":112,"y":112},{"x":114,"y":120},{"x":116.1,"y":95.2},{"x":117,"y":115},{"x":118.7,"y":145.9},{"x":120,"y":125},{"x":122,"y":132},{"x":122.5,"y":99.6},{"x":124,"y":140},{"x":125,"y":128},{"x":126.4,"y":79.7},{"x":126.4,"y":150.9},{"x":128,"y":135},{"x":130,"y":125},{"x":131.5,"y":111.3},{"x":132,"y":142},{"x":134.1,"y":139.2},{"x":135.4,"y":100.2},{"x":136,"y":130},{"x":137.9,"y":152.9},{"x":139.2,"y":123},{"x":140,"y":145},{"x":141,"y":135},{"x":143.1,"y":114.3},{"x":144,"y":128},{"x":145.6,"y":98.2},{"x":147,"y":138},{"x":148.2,"y":102.6},{"x":150,"y":135},{"x":152.8,"y":140.6},{"x":154.6,"y":153.8},{"x":157.2,"y":121.6},{"x":158.5,"y":137.1},{"x":184.7,"y":137.7},
{"x":8,"y":19},{"x":11,"y":22},{"x":15,"y":18},{"x":18,"y":22},{"x":20,"y":24},{"x":24,"y":28},{"x":28,"y":30},{"x":30,"y":24},{"x":33,"y":22},{"x":34,"y":38},{"x":38,"y":42},{"x":44,"y":45},{"x":52,"y":52},{"x":58,"y":62},{"x":62,"y":55},{"x":66,"y":68},{"x":72,"y":80},{"x":90,"y":94},{"x":96,"y":93},{"x":104,"y":104},{"x":108,"y":112},{"x":112,"y":118},{"x":116,"y":118},{"x":120,"y":115},{"x":126,"y":130},{"x":130,"y":138},{"x":134,"y":128},{"x":138,"y":132},{"x":142,"y":126},{"x":146,"y":130},{"x":150,"y":128},{"x":138,"y":145}]
},
"columns": 2,
"spacing": {"row": 133.1, "column": 105},
"bounds": "flush",
"resolve": {"scale": {"x": "independent", "y": "independent"}},
"concat": [
   {"width": 268.7, "height": 236, "layer": [
    {"data": {"name": "p1"}, "mark": "point", "encoding": {
     "x": {"field": "x", "type": "quantitative", "scale": {"domain": [99.7, 360.1], "nice": false, "zero": false}, "axis": {"values": [150, 200, 250, 300, 350], "title": "Measured Downward Shortwave", "labelPadding": 19, "titlePadding": 12}},
     "y": {"field": "y", "type": "quantitative", "scale": {"domain": [99.7, 360.1], "nice": false, "zero": false}, "axis": {"values": [150, 200, 250, 300, 350], "title": "Fused Downward Shortwave", "titlePadding": 1.1}}}},
    {"data": {"values": [{"a": 99.7, "b": 360.1}]}, "mark": "rule", "encoding": {"x": {"field": "a", "type": "quantitative"}, "y": {"field": "a", "type": "quantitative"}, "x2": {"field": "b"}, "y2": {"field": "b"}}},
    {"data": {"values": [{}]}, "mark": "text", "encoding": {"x": {"datum": 123}, "y": {"datum": 335.3}, "text": {"value": "RMSE =14.1"}}},
    {"data": {"values": [{}]}, "mark": "text", "encoding": {"x": {"datum": 123}, "y": {"datum": 306.6}, "text": {"value": "R² = 0.92"}}},
    {"data": {"values": [{}]}, "mark": "text", "encoding": {"x": {"datum": 123}, "y": {"datum": 282.3}, "text": {"value": "N = 453"}}}
   ]},
   {"width": 265.3, "height": 236, "layer": [
    {"data": {"name": "p2"}, "mark": "point", "encoding": {
     "x": {"field": "x", "type": "quantitative", "scale": {"domain": [16.2, 97.8], "nice": false, "zero": false}, "axis": {"values": [20, 40, 60, 80], "title": "Measured Upward Shortwave", "labelPadding": 21, "titlePadding": 8.6}},
     "y": {"field": "y", "type": "quantitative", "scale": {"domain": [16.2, 99.2], "nice": false, "zero": false}, "axis": {"values": [20, 40, 60, 80], "title": "Fused Upward Shortwave", "titlePadding": 5.4}}}},
    {"data": {"values": [{"a": 16.2, "b": 99.2}]}, "mark": "rule", "encoding": {"x": {"field": "a", "type": "quantitative"}, "y": {"field": "a", "type": "quantitative"}, "x2": {"field": "b"}, "y2": {"field": "b"}}},
    {"data": {"values": [{}]}, "mark": "text", "encoding": {"x": {"datum": 23.6}, "y": {"datum": 91.3}, "text": {"value": "RMSE = 8.1"}}},
    {"data": {"values": [{}]}, "mark": "text", "encoding": {"x": {"datum": 23.6}, "y": {"datum": 82.1}, "text": {"value": "R² = 0.60"}}},
    {"data": {"values": [{}]}, "mark": "text", "encoding": {"x": {"datum": 23.6}, "y": {"datum": 74.4}, "text": {"value": "N = 354"}}}
   ]},
   {"width": 268.7, "height": 236, "layer": [
    {"data": {"name": "p3"}, "mark": "point", "encoding": {
     "x": {"field": "x", "type": "quantitative", "scale": {"domain": [0.092, 0.383], "nice": false, "zero": false}, "axis": {"values": [0.1, 0.15, 0.2, 0.25, 0.3, 0.35], "labelExpr": "round(datum.value*100) % 10 == 0 ? format(datum.value, '.2f') : ''", "title": "Measured Albedo", "labelPadding": 17.7, "titlePadding": 15.3}},
     "y": {"field": "y", "type": "quantitative", "scale": {"domain": [0.092, 0.383], "nice": false, "zero": false}, "axis": {"values": [0.1, 0.15, 0.2, 0.25, 0.3, 0.35], "labelExpr": "round(datum.value*100) % 10 == 0 ? format(datum.value, '.2f') : ''", "title": "Fused Albedo", "titlePadding": 2.7}}}},
    {"data": {"values": [{"a": 0.092, "b": 0.383}]}, "mark": "rule", "encoding": {"x": {"field": "a", "type": "quantitative"}, "y": {"field": "a", "type": "quantitative"}, "x2": {"field": "b"}, "y2": {"field": "b"}}},
    {"data": {"values": [{}]}, "mark": "text", "encoding": {"x": {"datum": 0.118}, "y": {"datum": 0.3553}, "text": {"value": "RMSE =0.039"}}},
    {"data": {"values": [{}]}, "mark": "text", "encoding": {"x": {"datum": 0.118}, "y": {"datum": 0.3232}, "text": {"value": "R² = 0.38"}}},
    {"data": {"values": [{}]}, "mark": "text", "encoding": {"x": {"datum": 0.118}, "y": {"datum": 0.2961}, "text": {"value": "N = 354"}}}
   ]},
   {"width": 265.3, "height": 236, "layer": [
    {"data": {"name": "p4"}, "mark": "point", "encoding": {
     "x": {"field": "x", "type": "quantitative", "scale": {"domain": [66.8, 273.6], "nice": false, "zero": false}, "axis": {"values": [100, 150, 200, 250], "title": "Measured Net Shortwave", "labelPadding": 19.3, "titlePadding": 13.7}},
     "y": {"field": "y", "type": "quantitative", "scale": {"domain": [66.8, 276.8], "nice": false, "zero": false}, "axis": {"values": [100, 150, 200, 250], "title": "Fused Net Shortwave", "titlePadding": 3.8}}}},
    {"data": {"values": [{"a": 66.8, "b": 276.8}]}, "mark": "rule", "encoding": {"x": {"field": "a", "type": "quantitative"}, "y": {"field": "a", "type": "quantitative"}, "x2": {"field": "b"}, "y2": {"field": "b"}}},
    {"data": {"values": [{}]}, "mark": "text", "encoding": {"x": {"datum": 85.5}, "y": {"datum": 256.8}, "text": {"value": "RMSE =14.1"}}},
    {"data": {"values": [{}]}, "mark": "text", "encoding": {"x": {"datum": 85.5}, "y": {"datum": 233.6}, "text": {"value": "R² = 0.88"}}},
    {"data": {"values": [{}]}, "mark": "text", "encoding": {"x": {"datum": 85.5}, "y": {"datum": 214.1}, "text": {"value": "N = 354"}}}
   ]},
   {"width": 268.7, "height": 236, "layer": [
    {"data": {"name": "p5"}, "mark": "point", "encoding": {
     "x": {"field": "x", "type": "quantitative", "scale": {"domain": [143.3, 341.5], "nice": false, "zero": false}, "axis": {"values": [150, 200, 250, 300], "title": "Measured Downward Longwave", "labelPadding": 16, "titlePadding": 10.3}},
     "y": {"field": "y", "type": "quantitative", "scale": {"domain": [143.3, 341.5], "nice": false, "zero": false}, "axis": {"values": [150, 200, 250, 300], "title": "Fused Downward Longwave", "titlePadding": 9.4}}}},
    {"data": {"values": [{"a": 143.3, "b": 341.5}]}, "mark": "rule", "encoding": {"x": {"field": "a", "type": "quantitative"}, "y": {"field": "a", "type": "quantitative"}, "x2": {"field": "b"}, "y2": {"field": "b"}}},
    {"data": {"values": [{}]}, "mark": "text", "encoding": {"x": {"datum": 161}, "y": {"datum": 322.6}, "text": {"value": "RMSE =9.09"}}},
    {"data": {"values": [{}]}, "mark": "text", "encoding": {"x": {"datum": 161}, "y": {"datum": 300.8}, "text": {"value": "R² = 0.97"}}},
    {"data": {"values": [{}]}, "mark": "text", "encoding": {"x": {"datum": 161}, "y": {"datum": 282.3}, "text": {"value": "N = 307"}}}
   ]},
   {"width": 265.3, "height": 236, "layer": [
    {"data": {"name": "p6"}, "mark": "point", "encoding": {
     "x": {"field": "x", "type": "quantitative", "scale": {"domain": [240.2, 412.5], "nice": false, "zero": false}, "axis": {"values": [250, 300, 350, 400], "title": "Measured Upward Longwave", "labelPadding": 16, "titlePadding": 8.7}},
     "y": {"field": "y", "type": "quantitative", "scale": {"domain": [240.1, 414.8], "nice": false, "zero": false}, "axis": {"values": [250, 300, 350, 400], "title": "Fused Upward Longwave", "titlePadding": 5.4}}}},
    {"data": {"values": [{"a": 240.1, "b": 414.8}]}, "mark": "rule", "encoding": {"x": {"field": "a", "type": "quantitative"}, "y": {"field": "a", "type": "quantitative"}, "x2": {"field": "b"}, "y2": {"field": "b"}}},
    {"data": {"values": [{}]}, "mark": "text", "encoding": {"x": {"datum": 255.8}, "y": {"datum": 398.1}, "text": {"value": "RMSE =6.91"}}},
    {"data": {"values": [{}]}, "mark": "text", "encoding": {"x": {"datum": 255.8}, "y": {"datum": 378.9}, "text": {"value": "R² = 0.97"}}},
    {"data": {"values": [{}]}, "mark": "text", "encoding": {"x": {"datum": 255.8}, "y": {"datum": 362.6}, "text": {"value": "N = 325"}}}
   ]},
   {"width": 268.7, "height": 236, "layer": [
    {"data": {"name": "p7"}, "mark": "point", "encoding": {
     "x": {"field": "x", "type": "quantitative", "scale": {"domain": [-152.2, -32.6], "nice": false, "zero": false}, "axis": {"values": [-140, -120, -100, -80, -60, -40], "labelExpr": "datum.value == -120 ? '' : datum.label", "title": "Measured Net Longwave", "labelPadding": 21, "titlePadding": 7}},
     "y": {"field": "y", "type": "quantitative", "scale": {"domain": [-152.2, -32.6], "nice": false, "zero": false}, "axis": {"values": [-140, -120, -100, -80, -60, -40], "labelExpr": "(datum.value == -120 || datum.value == -80) ? '' : datum.label", "title": "Fused Net Longwave", "titlePadding": 7.7}}}},
    {"data": {"values": [{"a": -152.2, "b": -32.6}]}, "mark": "rule", "encoding": {"x": {"field": "a", "type": "quantitative"}, "y": {"field": "a", "type": "quantitative"}, "x2": {"field": "b"}, "y2": {"field": "b"}}},
    {"data": {"values": [{}]}, "mark": "text", "encoding": {"x": {"datum": -141.5}, "y": {"datum": -44}, "text": {"value": "RMSE = 10.7"}}},
    {"data": {"values": [{}]}, "mark": "text", "encoding": {"x": {"datum": -141.5}, "y": {"datum": -57.2}, "text": {"value": "R² = 0.77"}}},
    {"data": {"values": [{}]}, "mark": "text", "encoding": {"x": {"datum": -141.5}, "y": {"datum": -68.3}, "text": {"value": "N = 263"}}}
   ]},
   {"width": 265.3, "height": 236, "layer": [
    {"data": {"name": "p8"}, "mark": "point", "encoding": {
     "x": {"field": "x", "type": "quantitative", "scale": {"domain": [-13.5, 190], "nice": false, "zero": false}, "axis": {"values": [0, 50, 100, 150], "title": "Measured Net Radiation", "labelPadding": 21, "titlePadding": 12}},
     "y": {"field": "y", "type": "quantitative", "scale": {"domain": [-13.3, 193.8], "nice": false, "zero": false}, "axis": {"values": [0, 50, 100, 150], "title": "Fused Net Radiation", "titlePadding": 3.8}}}},
    {"data": {"values": [{"a": -13.3, "b": 193.8}]}, "mark": "rule", "encoding": {"x": {"field": "a", "type": "quantitative"}, "y": {"field": "a", "type": "quantitative"}, "x2": {"field": "b"}, "y2": {"field": "b"}}},
    {"data": {"values": [{}]}, "mark": "text", "encoding": {"x": {"datum": 4.9}, "y": {"datum": 174.1}, "text": {"value": "RMSE = 14.9"}}},
    {"data": {"values": [{}]}, "mark": "text", "encoding": {"x": {"datum": 4.9}, "y": {"datum": 151.3}, "text": {"value": "R² = 0.90"}}},
    {"data": {"values": [{}]}, "mark": "text", "encoding": {"x": {"datum": 4.9}, "y": {"datum": 132}, "text": {"value": "N = 243"}}}
   ]}
]
}
